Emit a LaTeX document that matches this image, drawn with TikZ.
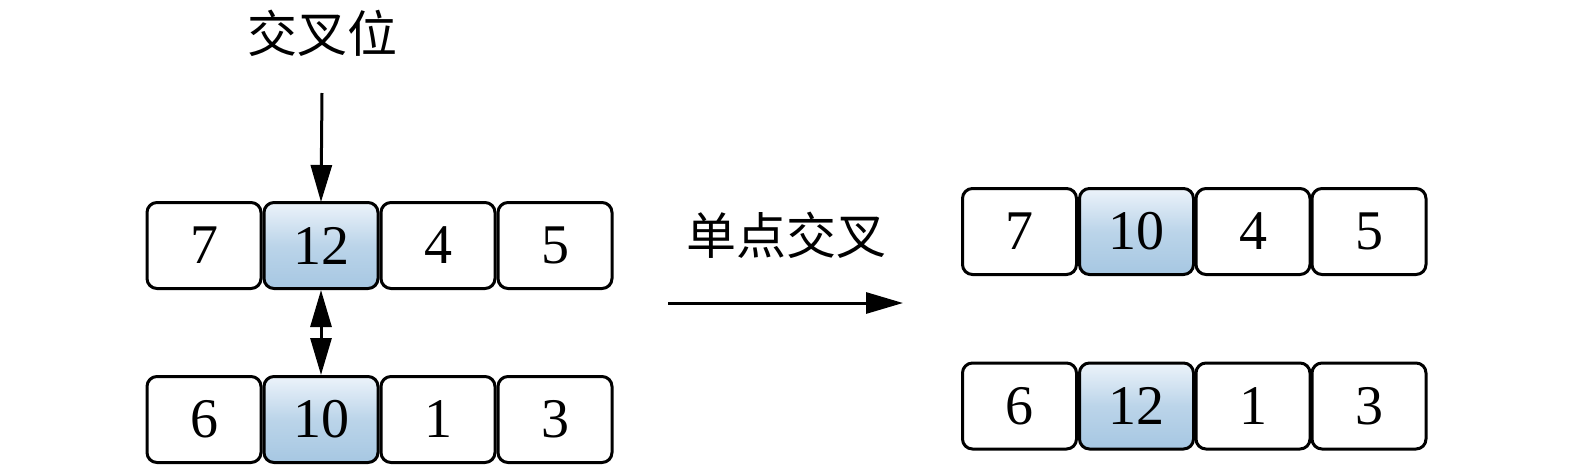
\documentclass[tikz,border=0pt]{standalone}
\usepackage{fontspec}
\setmainfont{Liberation Serif}
\newfontfamily\cjk{Noto Sans CJK SC}
\usetikzlibrary{arrows.meta}
\definecolor{celltop}{RGB}{236,243,250}
\definecolor{cellbot}{RGB}{166,199,226}
\tikzset{
  cell/.style={draw=black, line width=3pt, rounded corners=10pt, minimum width=114pt, minimum height=86pt, inner sep=0pt, font=\fontsize{56}{60}\selectfont, fill=white},
  hicell/.style={cell, top color=celltop, bottom color=cellbot, middle color=cellbot!70!celltop},
  arr/.style={line width=3pt, -{Triangle[length=37pt,width=21pt]}},
  darr/.style={line width=3pt, {Triangle[length=37pt,width=21pt]}-{Triangle[length=37pt,width=21pt]}},
  lbl/.style={font=\cjk\fontsize{50}{56}\selectfont, inner sep=0pt}
}
\begin{document}
\begin{tikzpicture}[x=1pt,y=-1pt]
\useasboundingbox (0,0) rectangle (1575,469);
% left
\node[cell]   (a1) at (204,245.5) {7};
\node[hicell] (a2) at (321,245.5) {12};
\node[cell]   (a3) at (438,245.5) {4};
\node[cell]   (a4) at (555,245.5) {5};
\node[cell]   (b1) at (204,419.5) {6};
\node[hicell] (b2) at (321,419.5) {10};
\node[cell]   (b3) at (438,419.5) {1};
\node[cell]   (b4) at (555,419.5) {3};
% right
\node[cell]   (c1) at (1019.5,231.5) {7};
\node[hicell] (c2) at (1136.5,231.5) {10};
\node[cell]   (c3) at (1253,231.5) {4};
\node[cell]   (c4) at (1369,231.5) {5};
\node[cell]   (d1) at (1019.5,406) {6};
\node[hicell] (d2) at (1136.5,406) {12};
\node[cell]   (d3) at (1253,406) {1};
\node[cell]   (d4) at (1369,406) {3};
% labels
\node[lbl] (cp) at (322,33) {交叉位};
\node[lbl] (sp) at (786,235) {单点交叉};
% arrows
\coordinate (cpa) at (322,93);
\draw[arr] (cpa) -- ([yshift=-1pt]a2.north);
\draw[darr] (a2.south) -- (b2.north);
\coordinate (ra) at (668,303);
\coordinate (rb) at (903,303);
\draw[arr] (ra) -- (rb);
\end{tikzpicture}
\end{document}
